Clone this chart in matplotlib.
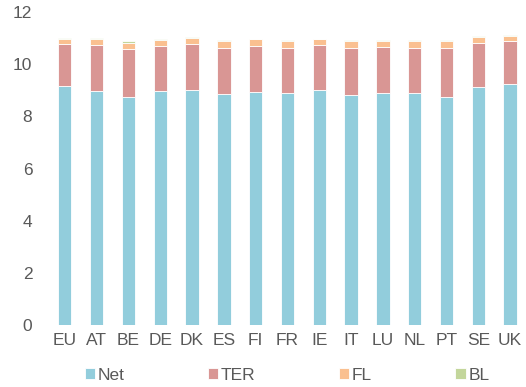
import numpy as np
import matplotlib.pyplot as plt

plt.rcParams['font.family'] = ['Liberation Sans', 'DejaVu Sans']

# Data (cumulative tops converted to segment sizes)
countries = ['EU', 'AT', 'BE', 'DE', 'DK', 'ES', 'FI', 'FR', 'IE', 'IT', 'LU', 'NL', 'PT', 'SE', 'UK']
net = [9.16, 8.99, 8.76, 8.97, 9.02, 8.85, 8.93, 8.88, 9.02, 8.81, 8.90, 8.90, 8.74, 9.13, 9.25]
ter = [1.62, 1.74, 1.81, 1.73, 1.76, 1.78, 1.77, 1.75, 1.71, 1.82, 1.76, 1.73, 1.89, 1.69, 1.64]
fl = [0.18, 0.24, 0.26, 0.22, 0.24, 0.24, 0.25, 0.24, 0.22, 0.24, 0.23, 0.25, 0.24, 0.23, 0.19]
bl = [0.04, 0.03, 0.04, 0.04, 0.03, 0.04, 0.02, 0.04, 0.02, 0.04, 0.04, 0.04, 0.04, 0.02, 0.03]

colors = ['#92CDDC', '#D99694', '#FAC090', '#C3D69B']
labels = ['Net', 'TER', 'FL', 'BL']
text_col = '#595959'

fig = plt.figure(figsize=(5.26, 3.87), dpi=100)
ax = fig.add_axes([0.093, 0.160, 0.907, 0.809])

x = np.arange(len(countries))
bottom = np.zeros(len(countries))
for vals, c, lab in zip([net, ter, fl, bl], colors, labels):
    ax.bar(x, vals, width=0.42, bottom=bottom, color=c, label=lab,
           edgecolor='white', linewidth=0.6)
    bottom += np.array(vals)

ax.set_xlim(-0.5, len(countries) - 0.5)
ax.set_ylim(0, 12)
ax.set_yticks(range(0, 13, 2))
ax.set_xticks(x)
ax.set_xticklabels(countries)
for s in ax.spines.values():
    s.set_visible(False)
ax.tick_params(axis='both', length=0, labelsize=12.5, colors=text_col)
ax.tick_params(axis='y', pad=12)
ax.tick_params(axis='x', pad=6)

fig.legend(loc='center', bbox_to_anchor=(0.546, 0.031), ncol=4, frameon=False,
           fontsize=12.5, labelcolor=text_col, handlelength=0.6, handleheight=0.6,
           handletextpad=0.15, columnspacing=4.8, borderpad=0)

fig.savefig('out.png', dpi=100)
